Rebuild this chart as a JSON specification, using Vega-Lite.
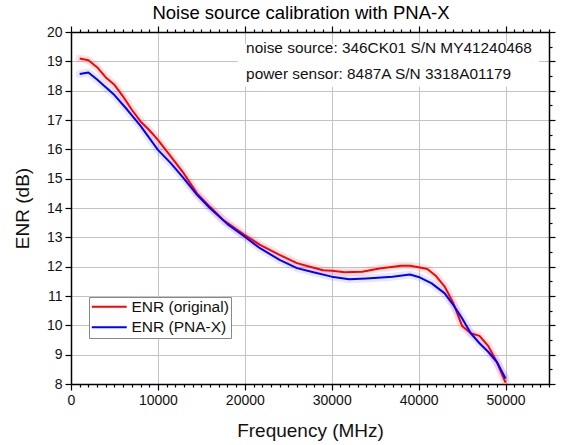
{
  "$schema": "https://vega.github.io/schema/vega-lite/v6.json",
  "width": 478,
  "height": 352,
  "autosize": "none",
  "padding": {"left": 71, "top": 32, "right": 16, "bottom": 61},
  "background": "white",
  "config": {
    "font": "Liberation Sans",
    "view": {"stroke": null},
    "axis": {"domainColor": "#000", "domainWidth": 1.5, "tickColor": "#000", "tickWidth": 1.2, "labelColor": "#111", "titleColor": "#111", "labelFont": "Liberation Sans", "titleFont": "Liberation Sans"}
  },
  "title": {"text": "Noise source calibration with PNA-X", "fontSize": 18.5, "fontWeight": "normal", "color": "#000", "anchor": "middle", "dx": -9, "offset": 3, "font": "Liberation Sans"},
  "datasets": {
    "enr": [
      {"f": 1000, "enr": 19.10, "series": "ENR (original)"},
      {"f": 2000, "enr": 19.04, "series": "ENR (original)"},
      {"f": 3000, "enr": 18.80, "series": "ENR (original)"},
      {"f": 4000, "enr": 18.45, "series": "ENR (original)"},
      {"f": 5000, "enr": 18.20, "series": "ENR (original)"},
      {"f": 6000, "enr": 17.80, "series": "ENR (original)"},
      {"f": 7000, "enr": 17.35, "series": "ENR (original)"},
      {"f": 8000, "enr": 16.95, "series": "ENR (original)"},
      {"f": 9000, "enr": 16.66, "series": "ENR (original)"},
      {"f": 10000, "enr": 16.32, "series": "ENR (original)"},
      {"f": 11500, "enr": 15.75, "series": "ENR (original)"},
      {"f": 13000, "enr": 15.17, "series": "ENR (original)"},
      {"f": 14500, "enr": 14.50, "series": "ENR (original)"},
      {"f": 16000, "enr": 14.04, "series": "ENR (original)"},
      {"f": 17500, "enr": 13.60, "series": "ENR (original)"},
      {"f": 19000, "enr": 13.28, "series": "ENR (original)"},
      {"f": 20000, "enr": 13.08, "series": "ENR (original)"},
      {"f": 21750, "enr": 12.74, "series": "ENR (original)"},
      {"f": 24000, "enr": 12.40, "series": "ENR (original)"},
      {"f": 26000, "enr": 12.12, "series": "ENR (original)"},
      {"f": 27500, "enr": 12.00, "series": "ENR (original)"},
      {"f": 29000, "enr": 11.88, "series": "ENR (original)"},
      {"f": 30000, "enr": 11.86, "series": "ENR (original)"},
      {"f": 31500, "enr": 11.81, "series": "ENR (original)"},
      {"f": 33500, "enr": 11.83, "series": "ENR (original)"},
      {"f": 35500, "enr": 11.94, "series": "ENR (original)"},
      {"f": 38000, "enr": 12.03, "series": "ENR (original)"},
      {"f": 39000, "enr": 12.03, "series": "ENR (original)"},
      {"f": 40000, "enr": 11.98, "series": "ENR (original)"},
      {"f": 41000, "enr": 11.92, "series": "ENR (original)"},
      {"f": 42000, "enr": 11.68, "series": "ENR (original)"},
      {"f": 43000, "enr": 11.32, "series": "ENR (original)"},
      {"f": 44000, "enr": 10.75, "series": "ENR (original)"},
      {"f": 45000, "enr": 9.98, "series": "ENR (original)"},
      {"f": 46000, "enr": 9.73, "series": "ENR (original)"},
      {"f": 47000, "enr": 9.64, "series": "ENR (original)"},
      {"f": 48000, "enr": 9.30, "series": "ENR (original)"},
      {"f": 49000, "enr": 8.75, "series": "ENR (original)"},
      {"f": 50000, "enr": 8.05, "series": "ENR (original)"},
      {"f": 1000, "enr": 18.57, "series": "ENR (PNA-X)"},
      {"f": 2000, "enr": 18.62, "series": "ENR (PNA-X)"},
      {"f": 3000, "enr": 18.38, "series": "ENR (PNA-X)"},
      {"f": 4000, "enr": 18.12, "series": "ENR (PNA-X)"},
      {"f": 5000, "enr": 17.85, "series": "ENR (PNA-X)"},
      {"f": 6500, "enr": 17.34, "series": "ENR (PNA-X)"},
      {"f": 8000, "enr": 16.80, "series": "ENR (PNA-X)"},
      {"f": 10000, "enr": 15.98, "series": "ENR (PNA-X)"},
      {"f": 11500, "enr": 15.52, "series": "ENR (PNA-X)"},
      {"f": 13000, "enr": 15.00, "series": "ENR (PNA-X)"},
      {"f": 14500, "enr": 14.45, "series": "ENR (PNA-X)"},
      {"f": 16000, "enr": 13.99, "series": "ENR (PNA-X)"},
      {"f": 18000, "enr": 13.45, "series": "ENR (PNA-X)"},
      {"f": 20000, "enr": 13.02, "series": "ENR (PNA-X)"},
      {"f": 21750, "enr": 12.63, "series": "ENR (PNA-X)"},
      {"f": 24000, "enr": 12.23, "series": "ENR (PNA-X)"},
      {"f": 26000, "enr": 11.95, "series": "ENR (PNA-X)"},
      {"f": 28000, "enr": 11.80, "series": "ENR (PNA-X)"},
      {"f": 30000, "enr": 11.66, "series": "ENR (PNA-X)"},
      {"f": 32000, "enr": 11.57, "series": "ENR (PNA-X)"},
      {"f": 34000, "enr": 11.60, "series": "ENR (PNA-X)"},
      {"f": 37000, "enr": 11.66, "series": "ENR (PNA-X)"},
      {"f": 39000, "enr": 11.73, "series": "ENR (PNA-X)"},
      {"f": 40000, "enr": 11.65, "series": "ENR (PNA-X)"},
      {"f": 41500, "enr": 11.43, "series": "ENR (PNA-X)"},
      {"f": 43000, "enr": 11.09, "series": "ENR (PNA-X)"},
      {"f": 44000, "enr": 10.69, "series": "ENR (PNA-X)"},
      {"f": 45000, "enr": 10.24, "series": "ENR (PNA-X)"},
      {"f": 46000, "enr": 9.73, "series": "ENR (PNA-X)"},
      {"f": 47000, "enr": 9.39, "series": "ENR (PNA-X)"},
      {"f": 48000, "enr": 9.10, "series": "ENR (PNA-X)"},
      {"f": 49000, "enr": 8.75, "series": "ENR (PNA-X)"},
      {"f": 50000, "enr": 8.19, "series": "ENR (PNA-X)"}
    ]
  },
  "resolve": {"axis": {"x": "independent", "y": "independent"}},
  "layer": [
    {
      "data": {"values": [{}]},
      "mark": {"type": "rect", "fill": "white", "stroke": null},
      "encoding": {
        "x": {"datum": 19200, "type": "quantitative", "scale": {"domain": [0, 55000], "nice": false, "zero": false}, "axis": null},
        "x2": {"datum": 53850},
        "y": {"datum": 19.6, "type": "quantitative", "scale": {"domain": [8, 20], "nice": false, "zero": false}, "axis": null},
        "y2": {"datum": 18.13}
      }
    },
    {
      "data": {"name": "enr"},
      "transform": [{"filter": "datum.series === 'ENR (original)'"}],
      "mark": {"type": "line", "strokeWidth": 8, "opacity": 0.12, "color": "#ff2020", "strokeCap": "round", "strokeJoin": "round"},
      "encoding": {
        "x": {"field": "f", "type": "quantitative", "axis": {
          "orient": "top", "title": null, "labels": false, "grid": false,
          "values": [0,1000,2000,3000,4000,5000,6000,7000,8000,9000,10000,11000,12000,13000,14000,15000,16000,17000,18000,19000,20000,21000,22000,23000,24000,25000,26000,27000,28000,29000,30000,31000,32000,33000,34000,35000,36000,37000,38000,39000,40000,41000,42000,43000,44000,45000,46000,47000,48000,49000,50000,51000,52000,53000,54000,55000],
          "tickSize": {"condition": {"test": "datum.value % 10000 === 0", "value": 6}, "value": 3}
        }},
        "y": {"field": "enr", "type": "quantitative", "axis": {
          "orient": "right", "title": null, "labels": false, "grid": false,
          "values": [8,8.5,9,9.5,10,10.5,11,11.5,12,12.5,13,13.5,14,14.5,15,15.5,16,16.5,17,17.5,18,18.5,19,19.5,20],
          "tickSize": {"condition": {"test": "datum.value % 1 === 0", "value": 6}, "value": 3}
        }}
      }
    },
    {
      "data": {"name": "enr"},
      "transform": [{"filter": "datum.series === 'ENR (PNA-X)'"}],
      "mark": {"type": "line", "strokeWidth": 8, "opacity": 0.1, "color": "#2020ff", "strokeCap": "round", "strokeJoin": "round"},
      "encoding": {
        "x": {"field": "f", "type": "quantitative", "axis": null},
        "y": {"field": "enr", "type": "quantitative", "axis": null}
      }
    },
    {
      "data": {"name": "enr"},
      "mark": {"type": "line", "strokeWidth": 2, "strokeJoin": "round"},
      "encoding": {
        "x": {"field": "f", "type": "quantitative", "axis": {
          "orient": "bottom", "title": "Frequency (MHz)", "titleFontSize": 19, "titleFontWeight": "normal", "titlePadding": 14,
          "labelFontSize": 14, "labelPadding": 3, "labelFlush": false, "labelOverlap": false, "format": "d",
          "labelExpr": "datum.value % 10000 === 0 ? datum.label : ''",
          "values": [0,1000,2000,3000,4000,5000,6000,7000,8000,9000,10000,11000,12000,13000,14000,15000,16000,17000,18000,19000,20000,21000,22000,23000,24000,25000,26000,27000,28000,29000,30000,31000,32000,33000,34000,35000,36000,37000,38000,39000,40000,41000,42000,43000,44000,45000,46000,47000,48000,49000,50000,51000,52000,53000,54000,55000],
          "tickSize": {"condition": {"test": "datum.value % 10000 === 0", "value": 6}, "value": 3},
          "grid": true, "gridColor": "#c4c4c4", "gridWidth": 1,
          "gridOpacity": {"condition": {"test": "datum.value % 10000 === 0 && datum.value > 0 && datum.value < 55000", "value": 1}, "value": 0}
        }},
        "y": {"field": "enr", "type": "quantitative", "axis": {
          "orient": "left", "title": "ENR (dB)", "titleFontSize": 19, "titleFontWeight": "normal", "titlePadding": 14,
          "labelFontSize": 14, "labelPadding": 3, "labelFlush": false, "labelOverlap": false, "format": "d",
          "labelExpr": "datum.value % 1 === 0 ? datum.label : ''",
          "values": [8,8.5,9,9.5,10,10.5,11,11.5,12,12.5,13,13.5,14,14.5,15,15.5,16,16.5,17,17.5,18,18.5,19,19.5,20],
          "tickSize": {"condition": {"test": "datum.value % 1 === 0", "value": 6}, "value": 3},
          "grid": true, "gridColor": "#c4c4c4", "gridWidth": 1,
          "gridOpacity": {"condition": {"test": "datum.value % 1 === 0 && datum.value > 8 && datum.value < 20", "value": 1}, "value": 0}
        }},
        "color": {"field": "series", "type": "nominal", "scale": {"domain": ["ENR (original)", "ENR (PNA-X)"], "range": ["#ff0000", "#0000ff"]},
          "legend": {"orient": "none", "legendX": 18, "legendY": 265, "title": null, "symbolType": "M-1.4,0H5.6", "symbolSize": 100, "symbolStrokeWidth": 2.2,
            "labelFontSize": 15.5, "labelColor": "#111", "labelFont": "Liberation Sans", "labelOffset": 25, "rowPadding": 3.5, "padding": 2, "strokeColor": "#888", "fillColor": "white"}}
      }
    },
    {
      "data": {"values": [{}]},
      "mark": {"type": "text", "text": "noise source: 346CK01 S/N MY41240468", "align": "left", "baseline": "middle", "fontSize": 15.4, "color": "#111", "font": "Liberation Sans"},
      "encoding": {
        "x": {"datum": 20150, "type": "quantitative", "axis": null},
        "y": {"datum": 19.47, "type": "quantitative", "axis": null}
      }
    },
    {
      "data": {"values": [{}]},
      "mark": {"type": "text", "text": "power sensor: 8487A S/N 3318A01179", "align": "left", "baseline": "middle", "fontSize": 15.4, "color": "#111", "font": "Liberation Sans"},
      "encoding": {
        "x": {"datum": 20150, "type": "quantitative", "axis": null},
        "y": {"datum": 18.58, "type": "quantitative", "axis": null}
      }
    }
  ]
}
